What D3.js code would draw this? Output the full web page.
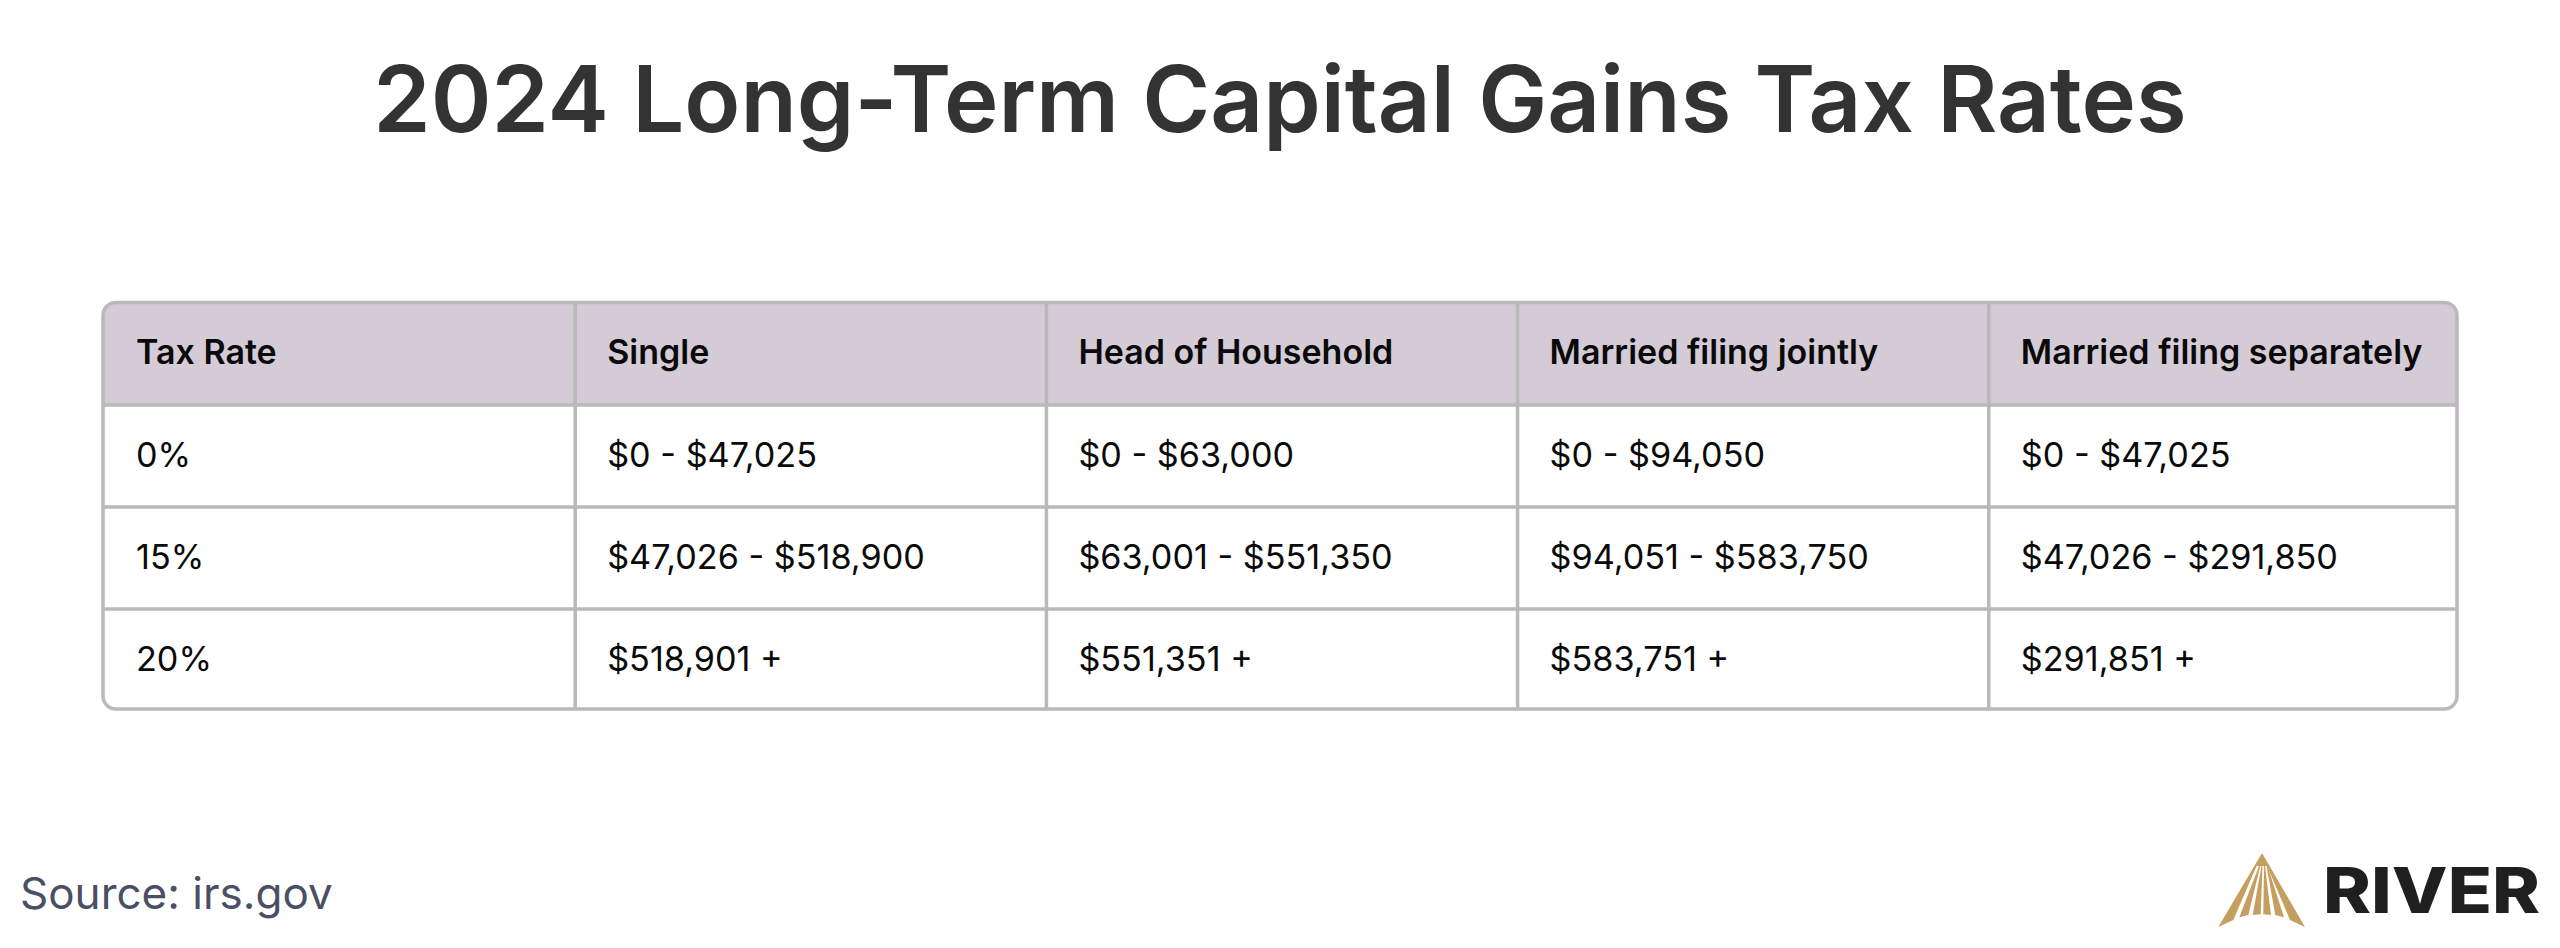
<!DOCTYPE html>
<html>
<head>
  <meta charset="utf-8">
  <script src="https://d3js.org/d3.v7.min.js"></script>
  <style>
    html, body { margin: 0; padding: 0; background: #fff; }
    svg { display: block; }
    text { font-family: Inter, "Noto Sans", sans-serif; }
  </style>
</head>
<body>
  <script>
    var columns = ["Tax Rate", "Single", "Head of Household", "Married filing jointly", "Married filing separately"];
    var taxRates = ["0%", "15%", "20%"];
    var single = ["$0 - $47,025", "$47,026 - $518,900", "$518,901 +"];
    var headOfHousehold = ["$0 - $63,000", "$63,001 - $551,350", "$551,351 +"];
    var marriedJointly = ["$0 - $94,050", "$94,051 - $583,750", "$583,751 +"];
    var marriedSeparately = ["$0 - $47,025", "$47,026 - $291,850", "$291,851 +"];

    var table = [taxRates, single, headOfHousehold, marriedJointly, marriedSeparately];
    var rowKeys = ["header", 0, 1, 2];

    var width = 2560, height = 948;
    var left = 103, right = 2457, top_ = 302.5, bottom = 709;

    var svg = d3.select("body").append("svg")
      .attr("width", width)
      .attr("height", height);

    svg.append("text")
      .attr("x", 1280)
      .attr("y", 132)
      .attr("text-anchor", "middle")
      .attr("font-size", 92.2)
      .attr("font-weight", 600)
      .attr("fill", "#333333")
      .text("2024 Long-Term Capital Gains Tax Rates");

    // last column/row are slightly short in the original, so the bands run past the frame
    var x = d3.scaleBand().domain(columns).range([104, 2460]);
    var y = d3.scaleBand().domain(rowKeys).range([303, 711]);

    svg.append("clipPath").attr("id", "tableClip")
      .append("rect")
      .attr("x", left).attr("y", top_)
      .attr("width", right - left).attr("height", bottom - top_)
      .attr("rx", 13);

    var tbl = svg.append("g").attr("clip-path", "url(#tableClip)");

    tbl.append("rect")
      .attr("x", left).attr("y", y("header"))
      .attr("width", right - left).attr("height", y.bandwidth())
      .attr("fill", "#d5cbd7");

    // inner grid lines
    tbl.selectAll("line.col")
      .data(columns.slice(1))
      .join("line")
      .attr("class", "col")
      .attr("x1", function(d) { return x(d); })
      .attr("x2", function(d) { return x(d); })
      .attr("y1", top_).attr("y2", bottom)
      .attr("stroke", "#b9b9b9").attr("stroke-width", 3.5);

    tbl.selectAll("line.row")
      .data(rowKeys.slice(1))
      .join("line")
      .attr("class", "row")
      .attr("x1", left).attr("x2", right)
      .attr("y1", function(d) { return y(d); })
      .attr("y2", function(d) { return y(d); })
      .attr("stroke", "#b9b9b9").attr("stroke-width", 3.5);

    svg.append("rect")
      .attr("x", left).attr("y", top_)
      .attr("width", right - left).attr("height", bottom - top_)
      .attr("rx", 13)
      .attr("fill", "none")
      .attr("stroke", "#b9b9b9").attr("stroke-width", 3.5);

    svg.selectAll("text.head")
      .data(columns)
      .join("text")
      .attr("class", "head")
      .attr("x", function(d) { return x(d) + 32; })
      .attr("y", y("header") + y.bandwidth() / 2 + 9.5)
      .attr("font-size", 34)
      .attr("font-weight", 600)
      .attr("fill", "#0a0a0a")
      .text(function(d) { return d; });

    table.forEach(function(values, c) {
      svg.selectAll("text.c" + c)
        .data(values)
        .join("text")
        .attr("class", "c" + c)
        .attr("x", x(columns[c]) + 32)
        .attr("y", function(d, i) { return y(i) + y.bandwidth() / 2 + 11; })
        .attr("font-size", 34.2)
        .attr("fill", "#0a0a0a")
        .text(function(d) { return d; });
    });

    svg.append("text")
      .attr("x", 20)
      .attr("y", 909)
      .attr("font-size", 44)
      .attr("fill", "#4a4f65")
      .text("Source: irs.gov");

    // logo: gold mark and wordmark
    var logo = svg.append("g").attr("fill", "#c49f5f");
    var rays = [
      [[2262, 853], [2256, 866], [2268, 866]],
      [[2262, 853], [2218.3, 927], [2233.3, 920], [2256.7, 865.7]],
      [[2259, 866], [2239.3, 917.3], [2248.3, 915], [2260.3, 866]],
      [[2261.5, 866], [2252.7, 915], [2260.7, 914.3], [2262.5, 866]],
      [[2264, 866], [2263.3, 914.3], [2271, 915], [2265, 866]],
      [[2266.5, 866], [2275.3, 915], [2284, 917.3], [2267.5, 866]],
      [[2262, 853], [2305, 927], [2290, 920], [2267, 865.7]]
    ];
    logo.selectAll("polygon")
      .data(rays)
      .join("polygon")
      .attr("points", function(d) { return d.join(" "); });

    svg.append("text")
      .attr("x", 2323)
      .attr("y", 913)
      .attr("font-size", 63)
      .attr("font-weight", 800)
      .attr("fill", "#1f1f1f")
      .attr("textLength", 217)
      .attr("lengthAdjust", "spacingAndGlyphs")
      .text("RIVER");
  </script>
</body>
</html>
